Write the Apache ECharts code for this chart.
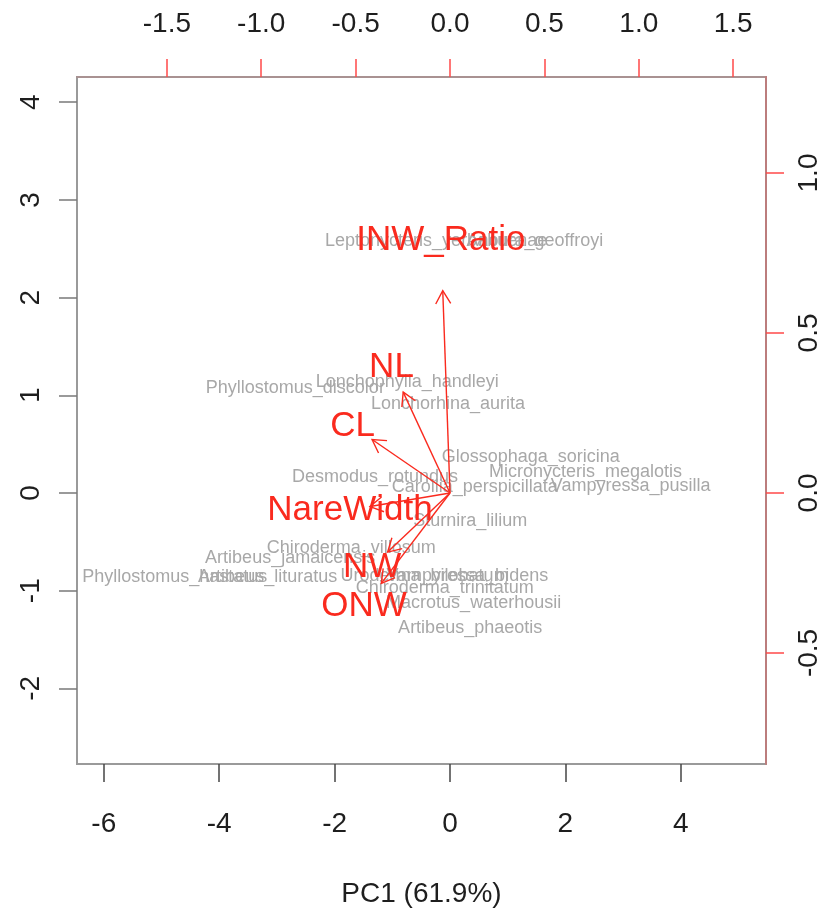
<!DOCTYPE html>
<html>
<head>
<meta charset="utf-8">
<title>PCA biplot</title>
<script src="https://cdn.jsdelivr.net/npm/echarts@6/dist/echarts.min.js"></script>
<style>
  html, body { margin: 0; padding: 0; background: #ffffff; }
  #chart { width: 833px; height: 909px; }
</style>
</head>
<body>
<div id="chart"></div>
<script>
// Species scores on the first two principal components
const speciesNames = [
  'Leptonycteris_yerbabuenae', 'Anoura_geoffroyi', 'Phyllostomus_discolor',
  'Lonchophylla_handleyi', 'Lonchorhina_aurita', 'Glossophaga_soricina',
  'Micronycteris_megalotis', 'Desmodus_rotundus', 'Carollia_perspicillata',
  'Vampyressa_pusilla', 'Sturnira_lilium', 'Chiroderma_villosum',
  'Artibeus_jamaicensis', 'Phyllostomus_hastatus', 'Artibeus_lituratus',
  'Uroderma_bilobatum', 'Vampyressa_bidens', 'Chiroderma_trinitatum',
  'Macrotus_waterhousii', 'Artibeus_phaeotis'
];
const pc1Scores = [-0.24, 1.47, -2.68, -0.74, -0.035, 1.40, 2.35, -1.30, 0.43, 3.13,
                   0.35, -1.71, -2.77, -4.77, -3.16, -0.44, 0.30, -0.09, 0.41, 0.35];
const pc2Scores = [2.58, 2.58, 1.075, 1.136, 0.911, 0.368, 0.215, 0.164, 0.061, 0.072,
                   -0.287, -0.563, -0.665, -0.86, -0.86, -0.85, -0.85, -0.97, -1.126, -1.38];

// Variable loadings (label positions); arrows are drawn to 0.8 of these
const variableNames = ['INW_Ratio', 'NL', 'CL', 'NareWidth', 'NW', 'ONW'];
const loadingPC1 = [-0.048, -0.31, -0.516, -0.53, -0.413, -0.455];
const loadingPC2 = [0.79, 0.394, 0.209, -0.053, -0.231, -0.353];
const arrowScale = 0.8;

// Tick labels
const bottomTicks = [-6, -4, -2, 0, 2, 4];
const leftTicks = [-2, -1, 0, 1, 2, 3, 4];
const topTicks = [-1.5, -1.0, -0.5, 0.0, 0.5, 1.0, 1.5];
const rightTicks = [-0.5, 0.0, 0.5, 1.0];

const FONT = '"Liberation Sans", Arial, Helvetica, sans-serif';
const RED = '#fa2a1e';

const chart = echarts.init(document.getElementById('chart'), null, { renderer: 'canvas' });

function axisBase(ticks, opts) {
  return Object.assign({
    type: 'value',
    gridIndex: 0,
    splitLine: { show: false },
    axisTick: {
      show: true, inside: false, length: 18, customValues: ticks,
      lineStyle: { color: opts.tickColor, width: 1.5 }
    },
    axisLabel: {
      show: true, customValues: ticks, margin: opts.margin,
      fontSize: 28, fontFamily: FONT, color: '#1e1e1e',
      rotate: opts.rotate || 0,
      formatter: opts.formatter
    },
    axisLine: {
      show: !!opts.lineColor, onZero: false,
      lineStyle: { color: opts.lineColor || '#999', width: 2 }
    }
  }, opts.extra || {});
}

const option = {
  backgroundColor: '#ffffff',
  animation: false,
  grid: {
    left: 77, top: 77, width: 689, height: 687,
    containLabel: false, outerBoundsMode: 'none',
    show: true, borderColor: '#9a9a9a', borderWidth: 2, backgroundColor: '#ffffff'
  },
  xAxis: [
    axisBase(bottomTicks, {
      tickColor: '#454545', margin: 46,
      formatter: v => String(v),
      extra: {
        position: 'bottom', min: -6.464, max: 5.477,
        name: 'PC1 (61.9%)', nameLocation: 'middle', nameGap: 116,
        nameTextStyle: { fontSize: 28, fontFamily: FONT, color: '#1e1e1e' }
      }
    }),
    axisBase(topTicks, {
      tickColor: '#ff4a4a', margin: 39, lineColor: 'rgba(225,120,120,0.22)',
      formatter: v => v.toFixed(1),
      extra: { position: 'top', min: -1.976, max: 1.674 }
    })
  ],
  yAxis: [
    axisBase(leftTicks, {
      tickColor: '#7a7a7a', margin: 32, rotate: 90,
      formatter: v => String(v),
      extra: { position: 'left', min: -2.774, max: 4.258 }
    }),
    axisBase(rightTicks, {
      tickColor: '#ff4a4a', margin: 29, rotate: 90, lineColor: 'rgba(230,90,90,0.45)',
      formatter: v => v.toFixed(1),
      extra: { position: 'right', min: -0.847, max: 1.3 }
    })
  ],
  series: [
    {
      // species names at their PC scores
      type: 'custom',
      xAxisIndex: 0, yAxisIndex: 0,
      clip: false,
      data: pc1Scores.map((x, i) => [x, pc2Scores[i]]),
      renderItem: function (params, api) {
        const p = api.coord([api.value(0), api.value(1)]);
        return {
          type: 'text', x: p[0], y: p[1],
          style: {
            text: speciesNames[params.dataIndex],
            fill: '#a8a8a8', fontSize: 18, fontFamily: FONT,
            align: 'center', verticalAlign: 'middle'
          }
        };
      }
    },
    {
      // loading arrows from the origin
      type: 'custom',
      xAxisIndex: 1, yAxisIndex: 1,
      clip: false,
      data: loadingPC1.map((x, i) => [x * arrowScale, loadingPC2[i] * arrowScale]),
      renderItem: function (params, api) {
        const o = api.coord([0, 0]);
        const t = api.coord([api.value(0), api.value(1)]);
        const ang = Math.atan2(t[1] - o[1], t[0] - o[0]);
        const head = 15, spread = Math.PI / 6;
        const a1 = [t[0] - head * Math.cos(ang - spread), t[1] - head * Math.sin(ang - spread)];
        const a2 = [t[0] - head * Math.cos(ang + spread), t[1] - head * Math.sin(ang + spread)];
        const stroke = { stroke: RED, lineWidth: 1.4, fill: null };
        return {
          type: 'group',
          children: [
            { type: 'line', shape: { x1: o[0], y1: o[1], x2: t[0], y2: t[1] }, style: stroke },
            { type: 'polyline', shape: { points: [a1, t, a2] }, style: stroke }
          ]
        };
      }
    },
    {
      // variable names at the loading positions
      type: 'custom',
      xAxisIndex: 1, yAxisIndex: 1,
      clip: false,
      data: loadingPC1.map((x, i) => [x, loadingPC2[i]]),
      renderItem: function (params, api) {
        const p = api.coord([api.value(0), api.value(1)]);
        return {
          type: 'text', x: p[0], y: p[1],
          style: {
            text: variableNames[params.dataIndex],
            fill: RED, fontSize: 35, fontFamily: FONT,
            align: 'center', verticalAlign: 'middle'
          }
        };
      }
    }
  ]
};

chart.setOption(option);
</script>
</body>
</html>
